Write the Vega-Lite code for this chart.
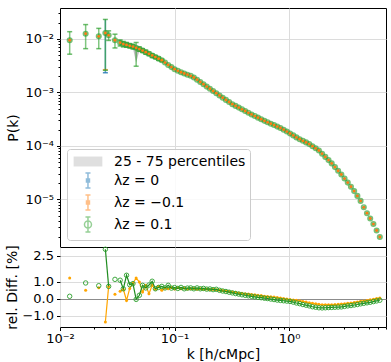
{
"$schema":"https://vega.github.io/schema/vega-lite/v6.json",
"background":"white",
"padding":{"left":5,"top":6,"right":7,"bottom":4},
"config":{
 "font":"DejaVu Sans",
 "view":{"stroke":"#000","strokeWidth":1},
 "axis":{"domain":false,"labelFont":"DejaVu Sans","labelFontSize":13,"labelColor":"#000","tickColor":"#000","tickWidth":1,"tickSize":3.5,"labelPadding":3,"titleFont":"DejaVu Sans","titleFontSize":14,"titleFontWeight":"normal","titleColor":"#000","gridColor":"#dcdcdc","gridWidth":1,"labelFlush":false,"labelOverlap":false,"tickCount":100}
},
"datasets":{"d":[
{"k":0.01215,"p":0.00946,"lo":0.0052,"hi":0.0137,"o":1.21,"g":0.14,"s":"a"},
{"k":0.01675,"p":0.01257,"lo":0.0066,"hi":0.0186,"o":0.49,"g":0.92,"s":"b"},
{"k":0.0218,"p":0.01122,"lo":0.0066,"hi":0.0158,"o":0.64,"g":0.76,"s":"c"},
{"k":0.0249,"p":0.01294,"lo":0.0026,"hi":0.0232,"bl":0.00234,"bh":0.0232,"ol":0.00267,"o":-1.36,"g":2.89,"s":"d"},
{"k":0.0266,"p":0.01173,"lo":0.0094,"hi":0.0142,"o":0.72,"g":0.72,"s":"d"},
{"k":0.0302,"p":0.00946,"lo":0.0068,"hi":0.0123,"o":0.26,"g":1.13,"s":"e"},
{"k":0.0335,"p":0.008526,"lo":0.0074,"hi":0.0096,"q1":0.0079,"q3":0.0090,"o":0.43,"g":1.08,"s":"f"},
{"k":0.03573,"p":0.008048,"lo":0.0071,"hi":0.0090,"q1":0.0075,"q3":0.0085,"o":0.55,"g":0.58,"s":"f"},
{"k":0.03811,"p":0.007757,"lo":0.0070,"hi":0.0086,"q1":0.0072,"q3":0.0082,"o":-0.10,"g":1.37,"s":"f"},
{"k":0.04064,"p":0.007463,"lo":0.0068,"hi":0.0082,"q1":0.0069,"q3":0.0079,"o":0.60,"g":0.82,"s":"f"},
{"k":0.04335,"p":0.007209,"lo":0.0065,"hi":0.0079,"q1":0.0067,"q3":0.0076,"o":0.90,"g":0.88,"s":"f"},
{"k":0.04624,"p":0.006848,"lo":0.0031,"hi":0.0086,"q1":0.0036,"q3":0.0072,"o":1.21,"g":-0.04,"s":"f"},
{"k":0.04932,"p":0.006476,"lo":0.0059,"hi":0.0071,"q1":0.0060,"q3":0.0068,"o":0.98,"g":0.20,"s":"f"},
{"k":0.0526,"p":0.006083,"lo":0.0056,"hi":0.0066,"q1":0.0057,"q3":0.0064,"o":0.39,"g":0.78,"s":"f"},
{"k":0.0561,"p":0.005665,"lo":0.0052,"hi":0.0062,"q1":0.0053,"q3":0.0059,"o":0.78,"g":0.63,"s":"f"},
{"k":0.05984,"p":0.00529,"lo":0.0049,"hi":0.0057,"q1":0.0050,"q3":0.0055,"o":0.29,"g":0.80,"s":"f"},
{"k":0.06383,"p":0.004926,"lo":0.0045,"hi":0.0053,"q1":0.0047,"q3":0.0051,"o":0.78,"g":1.02,"s":"f"},
{"k":0.06808,"p":0.004599,"lo":0.0043,"hi":0.0049,"q1":0.0044,"q3":0.0048,"o":0.55,"g":0.58,"s":"f"},
{"k":0.07261,"p":0.004292,"lo":0.0040,"hi":0.0046,"q1":0.0041,"q3":0.0044,"o":0.72,"g":0.66,"s":"f"},
{"k":0.07745,"p":0.004015,"lo":0.0038,"hi":0.0042,"q1":0.0039,"q3":0.0041,"o":0.50,"g":0.72,"s":"f"},
{"k":0.0826,"p":0.003629,"q1":0.0035,"q3":0.0037,"o":0.62,"g":0.63,"s":"f"},
{"k":0.0881,"p":0.003273,"q1":0.0032,"q3":0.0034,"o":0.58,"g":0.78,"s":"f"},
{"k":0.09397,"p":0.002983,"q1":0.0029,"q3":0.0031,"o":0.66,"g":0.62,"s":"f"},
{"k":0.1002,"p":0.002725,"o":0.56,"g":0.65,"s":"f"},
{"k":0.1069,"p":0.002544,"o":0.64,"g":0.60,"s":"f"},
{"k":0.114,"p":0.00239,"o":0.58,"g":0.66,"s":"f"},
{"k":0.1216,"p":0.002265,"o":0.62,"g":0.58,"s":"f"},
{"k":0.1297,"p":0.002151,"o":0.56,"g":0.62,"s":"f"},
{"k":0.1384,"p":0.002051,"o":0.58,"g":0.63,"s":"f"},
{"k":0.1476,"p":0.001907,"o":0.60,"g":0.58,"s":"f"},
{"k":0.1574,"p":0.001735,"o":0.55,"g":0.63,"s":"f"},
{"k":0.1679,"p":0.001572,"o":0.58,"g":0.58,"s":"f"},
{"k":0.1791,"p":0.001424,"o":0.55,"g":0.60,"s":"f"},
{"k":0.191,"p":0.001289,"o":0.57,"g":0.56,"s":"f"},
{"k":0.2037,"p":0.001173,"o":0.53,"g":0.57,"s":"f"},
{"k":0.2173,"p":0.001067,"o":0.55,"g":0.53,"s":"f"},
{"k":0.2317,"p":0.0009702,"o":0.52,"g":0.55,"s":"f"},
{"k":0.2472,"p":0.0008788,"o":0.50,"g":0.49,"s":"f"},
{"k":0.2636,"p":0.0007992,"o":0.48,"g":0.45,"s":"f"},
{"k":0.2812,"p":0.0007271,"o":0.45,"g":0.42,"s":"f"},
{"k":0.2999,"p":0.0006644,"o":0.42,"g":0.38,"s":"f"},
{"k":0.3199,"p":0.0006044,"o":0.39,"g":0.34,"s":"f"},
{"k":0.3412,"p":0.0005617,"o":0.37,"g":0.30,"s":"f"},
{"k":0.3639,"p":0.0005222,"o":0.34,"g":0.27,"s":"f"},
{"k":0.3882,"p":0.0004853,"o":0.32,"g":0.23,"s":"f"},
{"k":0.414,"p":0.000451,"o":0.29,"g":0.20,"s":"f"},
{"k":0.4416,"p":0.0004174,"o":0.27,"g":0.17,"s":"f"},
{"k":0.471,"p":0.0003887,"o":0.25,"g":0.14,"s":"f"},
{"k":0.5023,"p":0.0003629,"o":0.23,"g":0.11,"s":"f"},
{"k":0.5358,"p":0.0003388,"o":0.20,"g":0.08,"s":"f"},
{"k":0.5715,"p":0.0003162,"o":0.18,"g":0.06,"s":"f"},
{"k":0.6095,"p":0.0002952,"o":0.15,"g":0.03,"s":"f"},
{"k":0.6501,"p":0.0002773,"o":0.13,"g":0.01,"s":"f"},
{"k":0.6934,"p":0.0002611,"o":0.11,"g":-0.02,"s":"f"},
{"k":0.7396,"p":0.0002459,"o":0.10,"g":-0.05,"s":"f"},
{"k":0.7889,"p":0.0002305,"o":0.07,"g":-0.08,"s":"f"},
{"k":0.8414,"p":0.000217,"o":0.04,"g":-0.10,"s":"f"},
{"k":0.8974,"p":0.0002017,"o":0.01,"g":-0.12,"s":"f"},
{"k":0.9572,"p":0.0001859,"o":-0.02,"g":-0.14,"s":"f"},
{"k":1.021,"p":0.0001713,"o":-0.05,"g":-0.16,"s":"f"},
{"k":1.089,"p":0.0001578,"o":-0.07,"g":-0.20,"s":"f"},
{"k":1.161,"p":0.0001448,"o":-0.09,"g":-0.25,"s":"f"},
{"k":1.239,"p":0.000134,"o":-0.12,"g":-0.29,"s":"f"},
{"k":1.321,"p":0.0001251,"o":-0.16,"g":-0.34,"s":"f"},
{"k":1.409,"p":0.0001168,"o":-0.20,"g":-0.38,"s":"f"},
{"k":1.503,"p":0.0001085,"o":-0.24,"g":-0.42,"s":"f"},
{"k":1.603,"p":9.915e-5,"o":-0.27,"g":-0.47,"s":"f"},
{"k":1.71,"p":9.057e-5,"o":-0.30,"g":-0.50,"s":"f"},
{"k":1.824,"p":8.24e-5,"o":-0.33,"g":-0.53,"s":"f"},
{"k":1.945,"p":7.18e-5,"o":-0.35,"g":-0.54,"s":"f"},
{"k":2.075,"p":6.255e-5,"o":-0.35,"g":-0.53,"s":"f"},
{"k":2.213,"p":5.449e-5,"o":-0.35,"g":-0.52,"s":"f"},
{"k":2.36,"p":4.727e-5,"o":-0.35,"g":-0.51,"s":"f"},
{"k":2.518,"p":4.032e-5,"o":-0.34,"g":-0.50,"s":"f"},
{"k":2.685,"p":3.44e-5,"o":-0.33,"g":-0.49,"s":"f"},
{"k":2.864,"p":2.933e-5,"o":-0.31,"g":-0.48,"s":"f"},
{"k":3.055,"p":2.463e-5,"o":-0.29,"g":-0.45,"s":"f"},
{"k":3.258,"p":2.069e-5,"o":-0.27,"g":-0.42,"s":"f"},
{"k":3.475,"p":1.735e-5,"o":-0.25,"g":-0.40,"s":"f"},
{"k":3.707,"p":1.435e-5,"o":-0.22,"g":-0.37,"s":"f"},
{"k":3.954,"p":1.168e-5,"o":-0.19,"g":-0.34,"s":"f"},
{"k":4.217,"p":9.415e-6,"o":-0.15,"g":-0.30,"s":"f"},
{"k":4.498,"p":7.146e-6,"o":-0.13,"g":-0.27,"s":"f"},
{"k":4.797,"p":5.545e-6,"o":-0.10,"g":-0.24,"s":"f"},
{"k":5.117,"p":4.414e-6,"o":-0.06,"g":-0.21,"s":"f"},
{"k":5.458,"p":3.469e-6,"o":-0.03,"g":-0.17,"s":"f"},
{"k":5.821,"p":2.634e-6,"o":0.01,"g":-0.13,"s":"f"},
{"k":6.209,"p":1.991e-6,"o":0.04,"g":-0.09,"s":"f"}
]},
"spacing":0,
"bounds":"flush",
"resolve":{"scale":{"fill":"independent","stroke":"independent","shape":"independent"},"legend":{"fill":"independent","stroke":"independent","shape":"independent"}},
"vconcat":[
{
 "width":326,"height":239,
 "data":{"name":"d"},
 "layer":[
  {"mark":{"type":"area","color":"#808080","opacity":0.5},
   "encoding":{
    "x":{"field":"k","type":"quantitative","scale":{"type":"log","domain":[0.01,7.03],"nice":false},"axis":{"values":[0.1,1],"labels":false,"ticks":false,"title":null,"grid":true,"tickCount":100}},
    "y":{"field":"q1","type":"quantitative","scale":{"type":"log","domain":[1.294e-6,0.03797],"nice":false},
     "axis":{"title":"P(k)","titlePadding":4,"grid":true,"labelPadding":3,"labelOverlap":false,"tickCount":100,
      "values":[2e-6,3e-6,4e-6,5e-6,6e-6,7e-6,8e-6,9e-6,1e-5,2e-5,3e-5,4e-5,5e-5,6e-5,7e-5,8e-5,9e-5,0.0001,0.0002,0.0003,0.0004,0.0005,0.0006,0.0007,0.0008,0.0009,0.001,0.002,0.003,0.004,0.005,0.006,0.007,0.008,0.009,0.01,0.02,0.03],
      "labelExpr":"abs(log(datum.value)/LN10 - round(log(datum.value)/LN10)) < 0.01 ? '10⁻' + ['⁰','¹','²','³','⁴','⁵','⁶'][-round(log(datum.value)/LN10)] : ''",
      "tickSize":{"condition":{"test":"abs(log(datum.value)/LN10 - round(log(datum.value)/LN10)) < 0.01","value":3.5},"value":2},
      "gridOpacity":{"condition":{"test":"abs(log(datum.value)/LN10 - round(log(datum.value)/LN10)) < 0.01","value":1},"value":0}}},
    "y2":{"field":"q3"}}},
  {"mark":{"type":"rule","color":"#1f77b4","opacity":0.7,"strokeWidth":1.5},
   "encoding":{"x":{"field":"k","type":"quantitative"},"y":{"field":"bl","type":"quantitative"},"y2":{"field":"bh"}}},
  {"mark":{"type":"tick","orient":"horizontal","size":5,"thickness":1.5,"color":"#1f77b4","opacity":0.8},
   "encoding":{"x":{"field":"k","type":"quantitative"},"y":{"field":"bl","type":"quantitative"}}},
  {"mark":{"type":"point","filled":true,"size":8,"color":"#1f77b4","opacity":1},
   "encoding":{"x":{"field":"k","type":"quantitative"},"y":{"field":"p","type":"quantitative"}}},
  {"mark":{"type":"tick","orient":"horizontal","size":5,"thickness":1.5,"color":"#ff7f0e","opacity":0.7},
   "encoding":{"x":{"field":"k","type":"quantitative"},"y":{"field":"ol","type":"quantitative"}}},
  {"mark":{"type":"rule","color":"#2ca02c","opacity":0.6,"strokeWidth":1.5},
   "encoding":{"x":{"field":"k","type":"quantitative"},"y":{"field":"lo","type":"quantitative"},"y2":{"field":"hi"}}},
  {"mark":{"type":"tick","orient":"horizontal","size":5,"thickness":1.5,"color":"#2ca02c","opacity":0.7},
   "encoding":{"x":{"field":"k","type":"quantitative"},"y":{"field":"lo","type":"quantitative"}}},
  {"mark":{"type":"tick","orient":"horizontal","size":5,"thickness":1.5,"color":"#2ca02c","opacity":0.7},
   "encoding":{"x":{"field":"k","type":"quantitative"},"y":{"field":"hi","type":"quantitative"}}},
  {"mark":{"type":"point","filled":false,"size":20,"strokeWidth":1.6,"color":"#2ca02c","opacity":0.65},
   "encoding":{"x":{"field":"k","type":"quantitative"},"y":{"field":"p","type":"quantitative"}}},
  {"mark":{"type":"point","filled":true,"size":8,"color":"#ff7f0e","opacity":1},
   "encoding":{"x":{"field":"k","type":"quantitative"},"y":{"field":"p","type":"quantitative"}}},
  {"transform":[{"filter":"false"}],
   "mark":{"type":"point","size":196,"strokeWidth":1.5},
   "encoding":{"x":{"field":"k","type":"quantitative"},"y":{"field":"p","type":"quantitative"},
    "fill":{"field":"ser","type":"nominal",
     "scale":{"domain":["25 - 75 percentiles","λz = 0","λz = −0.1","λz = 0.1"],"range":["#bfbfbf","#62a0cb","#ffa556","transparent"]},
     "legend":{"title":null,"orient":"bottom-left","offset":7,"padding":4.5,"fillColor":"rgba(255,255,255,0.85)","strokeColor":"#cccccc","cornerRadius":3,
      "labelFont":"DejaVu Sans","labelFontSize":14,"labelColor":"#000","labelOffset":26.5,"labelLimit":300,"rowPadding":0,"symbolSize":196,"symbolStrokeWidth":1.5,
      "encode":{"symbols":{"update":{"opacity":{"value":1}}}}}},
    "stroke":{"field":"ser","type":"nominal",
     "scale":{"domain":["25 - 75 percentiles","λz = 0","λz = −0.1","λz = 0.1"],"range":["transparent","#62a0cb","#ffa556","#6bbd6b"]},
     "legend":{"title":null,"orient":"bottom-left","offset":7,"padding":4.5,"fillColor":"rgba(255,255,255,0.85)","strokeColor":"#cccccc","cornerRadius":3,
      "labelFont":"DejaVu Sans","labelFontSize":14,"labelColor":"#000","labelOffset":26.5,"labelLimit":300,"rowPadding":0,"symbolSize":196,"symbolStrokeWidth":1.5}},
    "shape":{"field":"ser","type":"nominal",
     "scale":{"domain":["25 - 75 percentiles","λz = 0","λz = −0.1","λz = 0.1"],
      "range":["M-0.84,-0.71H3.26V0.71H-0.84Z",
               "M1.21,-1.07V1.07M0.85,-1.07H1.57M0.85,1.07H1.57M1.0,-0.21H1.42V0.21H1.0Z",
               "M1.21,-1.07V1.07M0.85,-1.07H1.57M0.85,1.07H1.57M1.0,-0.21H1.42V0.21H1.0Z",
               "M1.21,-1.07V1.07M0.85,-1.07H1.57M0.85,1.07H1.57M0.71,0A0.5 0.5 0 1 0 1.71 0A0.5 0.5 0 1 0 0.71 0Z"]},
     "legend":{"title":null,"orient":"bottom-left","offset":7,"padding":4.5,"fillColor":"rgba(255,255,255,0.85)","strokeColor":"#cccccc","cornerRadius":3,
      "labelFont":"DejaVu Sans","labelFontSize":14,"labelColor":"#000","labelOffset":26.5,"labelLimit":300,"rowPadding":0,"symbolSize":196,"symbolStrokeWidth":1.5}}}}
 ]
},
{
 "width":326,"height":80,
 "data":{"name":"d"},
 "layer":[
  {"mark":{"type":"line","color":"#ffa500","strokeWidth":1.2},
   "encoding":{
    "x":{"field":"k","type":"quantitative","scale":{"type":"log","domain":[0.01,7.03],"nice":false},
     "axis":{"title":"k [h/cMpc]","titlePadding":2,"labelPadding":2,"grid":true,"labelOverlap":false,"tickCount":100,
      "values":[0.01,0.02,0.03,0.04,0.05,0.06,0.07,0.08,0.09,0.1,0.2,0.3,0.4,0.5,0.6,0.7,0.8,0.9,1,2,3,4,5,6,7],
      "labelExpr":"abs(log(datum.value)/LN10 - round(log(datum.value)/LN10)) < 0.01 ? (round(log(datum.value)/LN10) == 0 ? '10⁰' : '10⁻' + ['⁰','¹','²','³'][-round(log(datum.value)/LN10)]) : ''",
      "tickSize":{"condition":{"test":"abs(log(datum.value)/LN10 - round(log(datum.value)/LN10)) < 0.01","value":3.5},"value":2},
      "gridOpacity":{"condition":{"test":"abs(log(datum.value)/LN10 - round(log(datum.value)/LN10)) < 0.01","value":1},"value":0}}},
    "y":{"field":"o","type":"quantitative","scale":{"domain":[-1.655,3.023],"nice":false,"zero":false},
     "axis":{"title":"rel. Diff. [%]","titlePadding":2,"values":[2.5,1,0,-1],"format":".1f","grid":true,"labelPadding":3,"labelOverlap":false,"labelBound":false,"tickCount":100,
      "gridColor":{"condition":{"test":"datum.value === 0","value":"#8c8c8c"},"value":"#dcdcdc"}}},
    "detail":{"field":"s","type":"nominal"}}},
  {"mark":{"type":"point","filled":true,"size":9,"color":"#ffa500","opacity":1},
   "encoding":{"x":{"field":"k","type":"quantitative"},"y":{"field":"o","type":"quantitative"}}},
  {"mark":{"type":"line","color":"#1f8c1f","strokeWidth":1.2},
   "encoding":{"x":{"field":"k","type":"quantitative"},"y":{"field":"g","type":"quantitative"},"detail":{"field":"s","type":"nominal"}}},
  {"mark":{"type":"point","filled":false,"size":20,"strokeWidth":1,"color":"#2ca02c","opacity":0.9},
   "encoding":{"x":{"field":"k","type":"quantitative"},"y":{"field":"g","type":"quantitative"}}}
 ]
}
]
}
